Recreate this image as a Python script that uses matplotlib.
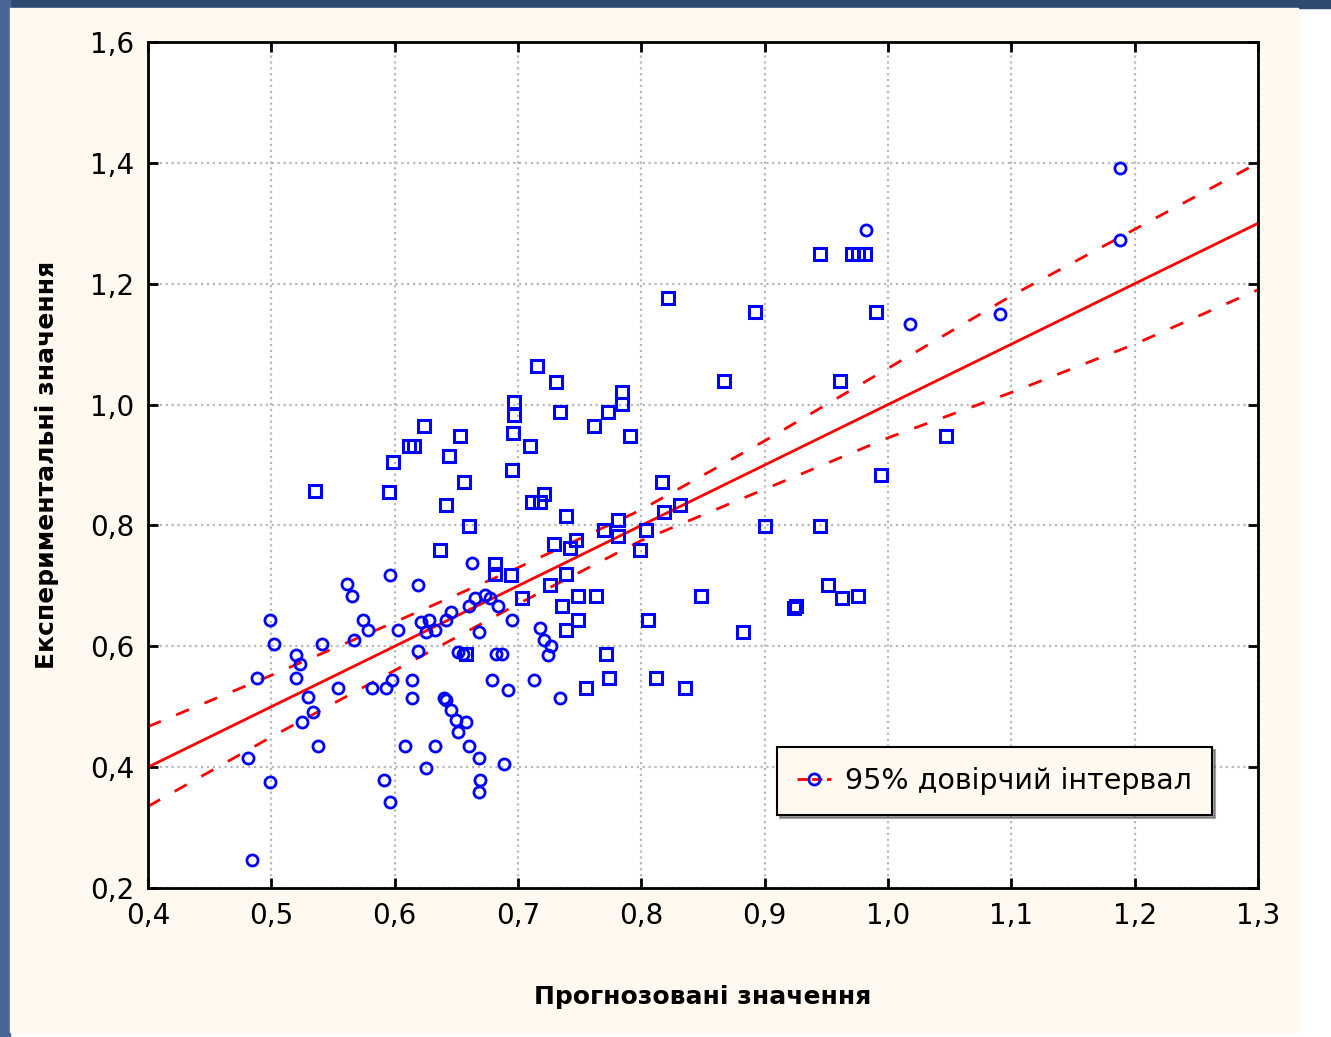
import matplotlib
matplotlib.use('Agg')
import matplotlib.pyplot as plt
from matplotlib.patches import Rectangle
from matplotlib.lines import Line2D
from matplotlib.ticker import FuncFormatter

# точки, показані кружечками (прогноз, експеримент)
circ_x = [0.484, 0.481, 0.488, 0.499, 0.502, 0.499, 0.520, 0.523, 0.520, 0.525,
          0.530, 0.534, 0.538, 0.541, 0.554, 0.561, 0.565, 0.567, 0.574, 0.578,
          0.582, 0.591, 0.593, 0.596, 0.596, 0.598, 0.603, 0.608, 0.614, 0.614,
          0.619, 0.619, 0.625, 0.621, 0.625, 0.628, 0.633, 0.633, 0.640, 0.642,
          0.642, 0.646, 0.646, 0.650, 0.651, 0.651, 0.655, 0.658, 0.660, 0.660,
          0.663, 0.665, 0.668, 0.668, 0.669, 0.668, 0.673, 0.677, 0.682, 0.679,
          0.684, 0.687, 0.689, 0.692, 0.695, 0.713, 0.718, 0.721, 0.724, 0.727,
          0.734, 0.982, 1.018, 1.091, 1.188, 1.188]
circ_y = [0.246, 0.415, 0.548, 0.643, 0.604, 0.375, 0.586, 0.571, 0.548, 0.475,
          0.516, 0.491, 0.435, 0.604, 0.531, 0.703, 0.683, 0.610, 0.643, 0.627,
          0.531, 0.379, 0.531, 0.718, 0.342, 0.544, 0.627, 0.435, 0.544, 0.514,
          0.701, 0.592, 0.399, 0.640, 0.624, 0.643, 0.435, 0.627, 0.514, 0.643,
          0.511, 0.657, 0.495, 0.478, 0.458, 0.591, 0.587, 0.475, 0.667, 0.435,
          0.738, 0.680, 0.415, 0.624, 0.379, 0.359, 0.685, 0.680, 0.587, 0.544,
          0.667, 0.587, 0.405, 0.528, 0.643, 0.544, 0.630, 0.610, 0.586, 0.600,
          0.514, 1.289, 1.133, 1.150, 1.391, 1.272]

# точки, показані квадратиками
sq_x = [0.535, 0.595, 0.599, 0.612, 0.616, 0.624, 0.637, 0.642, 0.644, 0.653,
        0.656, 0.658, 0.660, 0.681, 0.681, 0.694, 0.695, 0.696, 0.697, 0.697,
        0.703, 0.710, 0.711, 0.715, 0.718, 0.721, 0.726, 0.729, 0.731, 0.734,
        0.736, 0.739, 0.739, 0.739, 0.742, 0.747, 0.749, 0.749, 0.755, 0.762,
        0.763, 0.770, 0.771, 0.773, 0.774, 0.781, 0.781, 0.784, 0.784, 0.791,
        0.799, 0.804, 0.805, 0.812, 0.817, 0.818, 0.822, 0.831, 0.835, 0.848,
        0.867, 0.882, 0.892, 0.900, 0.924, 0.925, 0.945, 0.945, 0.951, 0.961,
        0.963, 0.971, 0.976, 0.976, 0.981, 0.990, 0.994, 1.047]
sq_y = [0.857, 0.855, 0.905, 0.931, 0.931, 0.965, 0.759, 0.834, 0.915, 0.948,
        0.872, 0.587, 0.799, 0.736, 0.720, 0.718, 0.892, 0.953, 1.004, 0.983,
        0.680, 0.931, 0.839, 1.064, 0.839, 0.852, 0.701, 0.769, 1.037, 0.988,
        0.667, 0.816, 0.627, 0.720, 0.762, 0.776, 0.683, 0.643, 0.531, 0.965,
        0.683, 0.792, 0.587, 0.988, 0.548, 0.809, 0.782, 1.021, 1.001, 0.948,
        0.759, 0.792, 0.643, 0.548, 0.872, 0.822, 1.176, 0.834, 0.531, 0.683,
        1.039, 0.624, 1.153, 0.799, 0.663, 0.667, 1.249, 0.799, 0.701, 1.039,
        0.680, 1.249, 0.683, 1.249, 1.249, 1.153, 0.883, 0.948]

# лінія регресії та 95% довірчий інтервал
fit_x = [0.4, 1.3]
fit_y = [0.4, 1.3]
band_x = [0.4, 0.5, 0.6, 0.7, 0.8, 0.9, 1.0, 1.1, 1.2, 1.3]
band_hi = [0.467, 0.552, 0.640, 0.730, 0.826, 0.940, 1.060, 1.180, 1.290, 1.400]
band_lo = [0.335, 0.450, 0.560, 0.670, 0.775, 0.860, 0.945, 1.020, 1.100, 1.190]

fig = plt.figure(figsize=(13.31, 10.37), dpi=100, facecolor='white')
# фон слайду
fig.patches.append(Rectangle((0, 0.992), 1, 0.008, transform=fig.transFigure,
                             color='#2f4a70', zorder=-10))
fig.patches.append(Rectangle((0, 0), 0.0075, 1, transform=fig.transFigure,
                             color='#4a6595', zorder=-10))
fig.patches.append(Rectangle((0.0075, 0.005), 0.968, 0.987, transform=fig.transFigure,
                             color='#fff9ef', zorder=-10))

ax = fig.add_axes([0.1112, 0.1437, 0.834, 0.8158])
ax.set_facecolor('white')

blue = '#0000ff'
red = '#ff0000'
ax.plot(circ_x, circ_y, 'o', ms=8, mfc='none', mec=blue, mew=2, zorder=3)
ax.plot(sq_x, sq_y, 's', ms=8, mfc='none', mec=blue, mew=2.2, zorder=3)
ax.plot(fit_x, fit_y, '-', color=red, lw=2, zorder=2)
ax.plot(band_x, band_hi, '--', color=red, lw=2, dashes=(5, 6), zorder=2)
ax.plot(band_x, band_lo, '--', color=red, lw=2, dashes=(5, 6), zorder=2)

ax.set_xlim(0.4, 1.3)
ax.set_ylim(0.2, 1.6)
ax.set_xticks([0.4, 0.5, 0.6, 0.7, 0.8, 0.9, 1.0, 1.1, 1.2, 1.3])
ax.set_yticks([0.2, 0.4, 0.6, 0.8, 1.0, 1.2, 1.4, 1.6])
comma = FuncFormatter(lambda v, p: f'{v:.1f}'.replace('.', ','))
ax.xaxis.set_major_formatter(comma)
ax.yaxis.set_major_formatter(comma)
ax.tick_params(direction='in', length=7, width=2, labelsize=20,
               top=True, right=True, pad=10)
ax.grid(True, color='#b8b8b8', ls=':', lw=1.6)
for s in ax.spines.values():
    s.set_linewidth(2)

ax.set_xlabel('Прогнозовані значення', fontsize=18, fontweight='bold', labelpad=40)
ax.set_ylabel('Експериментальні значення', fontsize=18, fontweight='bold', labelpad=22)

handle = Line2D([], [], color=red, ls='--', lw=2, marker='o', ms=8,
                mfc='none', mec=blue, mew=2)
leg = ax.legend([handle], ['95% довірчий інтервал'], loc='lower right',
                bbox_to_anchor=(0.9586, 0.086), borderaxespad=0, fontsize=20.5,
                frameon=True, fancybox=False, shadow=True, handlelength=1.2,
                handletextpad=0.5, borderpad=0.7)
leg.get_frame().set_facecolor('#fff9ef')
leg.get_frame().set_edgecolor('black')
leg.get_frame().set_linewidth(1.5)
leg.get_frame().set_alpha(1)

plt.savefig('out.png', dpi=100, facecolor=fig.get_facecolor())
